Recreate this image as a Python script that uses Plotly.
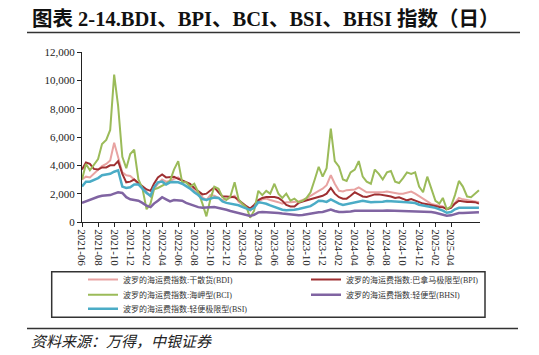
import plotly.graph_objects as go

# semimonthly sample dates (1st and 16th), 2021-06 .. 2025-07
months = [(2021 + (5 + i) // 12, (5 + i) % 12 + 1) for i in range(50)]
dates = [f"{y:04d}-{m:02d}-{d:02d}" for (y, m) in months for d in (1, 16)]

# x tick labels shown in the reference (every two months, up to 2025-04)
x_ticks = [f"{y:04d}-{m:02d}" for (y, m) in months[0:47:2]]

bdi = [3000, 3200, 3150, 3400, 3700, 3950, 4100, 4350, 5600, 4600,
       3500, 3300, 3250, 3000, 2650, 2450, 2100, 1800, 2300, 2700,
       3000, 2850, 2900, 3050, 3150, 2900, 2800, 2550, 2200, 2050,
       1750, 1550, 1900, 1850, 1700, 1550, 1600, 1750, 1850, 1450,
       1200, 950, 800, 1100, 1450, 1600, 1650, 1550, 1500, 1400,
       1300, 1400, 1400, 1400, 1450, 1550, 1650, 1850, 2050, 2200,
       2350, 2600, 3300, 2700, 2200, 2150, 2250, 2250, 2300, 2450,
       2300, 2100, 2100, 2100, 2050, 2100, 2150, 2100, 2000, 2000,
       2000, 2050, 2150, 2000, 1800, 1650, 1450, 1280, 1200, 1150,
       1100, 900, 1050, 1350, 1700, 1600, 1550, 1500, 1450, 1400]

bpi = [3700, 4200, 4100, 3750, 3700, 3850, 3850, 4000, 4000, 4300,
       3400, 2800, 2850, 3000, 2750, 2500, 2300, 2200, 2700, 3150,
       3350, 3150, 3150, 3200, 3050, 2950, 2800, 2700, 2400, 2150,
       1950, 2000, 2250, 2450, 2100, 1800, 1800, 1800, 1750, 1550,
       1300, 1100, 950, 1200, 1550, 1700, 1770, 1770, 1770, 1700,
       1500, 1200, 1100, 1100, 1350, 1450, 1530, 1600, 1700, 1800,
       1850, 2000, 2400, 2000, 1750, 1650, 1650, 1850, 2100, 1950,
       1800, 1770, 1850, 1950, 1950, 1880, 1850, 1800, 1700, 1750,
       1650, 1530, 1620, 1500, 1380, 1300, 1250, 1180, 1100, 1060,
       1050, 900, 1000, 1300, 1500, 1450, 1410, 1420, 1400, 1300]

bci = [3000, 4100, 3650, 4000, 4450, 5500, 5800, 6500, 10400, 8200,
       4600, 3800, 4800, 5100, 3000, 2400, 900, 1300, 2300, 2400,
       2550, 2700, 2900, 3700, 4300, 2800, 2800, 2500, 2700, 2100,
       1300, 400, 1600, 2500, 2350, 1750, 1550, 1800, 2800, 1600,
       1250, 1000, 300, 800, 2200, 1900, 2200, 2000, 2700, 2000,
       1700, 2000, 1500, 1650, 1400, 1500, 1700, 2100, 3000, 3900,
       3200, 3800, 6600, 4300, 3900, 3000, 2900, 3500, 3700, 4300,
       3200, 2850, 2700, 3700, 3400, 3000, 3500, 3600, 2850, 2750,
       3100, 3500, 3400, 3500, 2500, 2100, 3200, 2400, 1500, 1300,
       1700, 900, 1100, 1900, 2900, 2500, 1800, 1750, 2000, 2250]

bhsi = [1350, 1450, 1600, 1700, 1780, 1850, 1850, 1900, 2000, 2100,
        2050, 1750, 1600, 1570, 1500, 1350, 1150, 1050, 1300, 1500,
        1750, 1600, 1450, 1550, 1550, 1500, 1350, 1250, 1200, 1050,
        1000, 1000, 1050, 1060, 1000, 950, 860, 780, 700, 620,
        540, 480, 420, 500, 680, 710, 700, 700, 700, 640,
        600, 560, 530, 500, 480, 500, 560, 620, 660, 690,
        710, 780, 880, 780, 700, 700, 710, 740, 790, 820,
        800, 790, 780, 780, 790, 800, 810, 800, 790, 780,
        780, 780, 780, 780, 770, 750, 730, 700, 650, 590,
        530, 450, 470, 560, 630, 640, 640, 640, 660, 690]

bsi = [2500, 2850, 2850, 2950, 3100, 3300, 3350, 3400, 3550, 3650,
       2500, 2400, 2450, 2650, 2650, 2350, 2050, 1850, 2450, 2800,
       2850, 2650, 2800, 2820, 2800, 2700, 2550, 2360, 2100, 1900,
       1620, 1550, 1650, 1720, 1700, 1450, 1350, 1290, 1230, 1180,
       1050, 950, 850, 1000, 1400, 1350, 1290, 1170, 1050, 930,
       870, 830, 820, 860, 920, 980, 1050, 1120, 1300, 1500,
       1480, 1420, 1600, 1450, 1300, 1200, 1250, 1290, 1350, 1420,
       1500, 1450, 1400, 1420, 1420, 1430, 1480, 1450, 1420, 1410,
       1410, 1400, 1380, 1340, 1220, 1150, 1110, 1060, 1000, 920,
       800, 650, 700, 900, 1000, 1010, 1000, 990, 1000, 1010]

names = ["波罗的海运费指数:干散货(BDI)", "波罗的海运费指数:巴拿马极限型(BPI)",
         "波罗的海运费指数:海岬型(BCI)", "波罗的海运费指数:轻便型(BHSI)",
         "波罗的海运费指数:轻便极限型(BSI)"]
colors = ["#E8A3A2", "#9E2F31", "#9BBB59", "#8064A2", "#4BACC6"]
widths = [2, 2, 2, 2.5, 2.5]
series = [bdi, bpi, bci, bhsi, bsi]
legend_ids = ["legend", "legend2", "legend3", "legend4", "legend5"]
# legend slot (left px, top px) in the reference picture
legend_pos = [(83, 265), (306, 265), (83, 280.3), (306, 280.3), (83, 294.3)]

y_ticks = [0, 2000, 4000, 6000, 8000, 10000, 12000]

# page body has an 8px margin; lay out in reference coordinates minus that
OFF = 8
W, H = 539 - OFF, 355 - OFF
ML, MT, PW, PH = 82 - OFF, 52 - OFF, 398, 170
MR, MB = W - ML - PW, H - MT - PH


def X(px):
    return (px - OFF - ML) / PW


def Y(py):
    return (MT + PH - (py - OFF)) / PH


fig = go.Figure()
for s, nm, c, w, lg in zip(series, names, colors, widths, legend_ids):
    fig.add_trace(go.Scatter(x=dates, y=s, mode="lines", name=nm,
                             line=dict(color=c, width=w), legend=lg))

serif = "Liberation Serif, Times New Roman, Noto Sans CJK SC"
legends = {}
for lg, (lx, ly) in zip(legend_ids, legend_pos):
    legends[lg] = dict(orientation="h", xanchor="left", yanchor="top",
                       x=X(lx), y=Y(ly),
                       font=dict(family=serif, size=8, color="#333"),
                       bgcolor="rgba(0,0,0,0)", borderwidth=0, itemwidth=30)

fig.update_layout(
    width=W, height=H,
    margin=dict(l=ML, r=MR, t=MT, b=MB, autoexpand=False),
    paper_bgcolor="white", plot_bgcolor="white",
    showlegend=True,
    xaxis=dict(type="date", range=["2021-06-01", "2025-07-20"],
               tickvals=[t + "-01" for t in x_ticks], ticktext=x_ticks,
               tickangle=90, ticks="outside", ticklen=4, tickcolor="#222",
               showline=True, linecolor="#222", linewidth=1,
               showgrid=False, zeroline=False, automargin=False,
               tickfont=dict(family=serif, size=11, color="#222")),
    yaxis=dict(range=[0, 12000], tickvals=y_ticks, tickformat=",",
               ticks="outside", ticklen=4, tickcolor="#222",
               showline=True, linecolor="#222", linewidth=1,
               showgrid=False, zeroline=False, automargin=False,
               tickfont=dict(family=serif, size=11, color="#222")),
    shapes=[
        dict(type="line", xref="paper", yref="paper", x0=X(27), x1=X(520),
             y0=Y(32.5), y1=Y(32.5), line=dict(color="#333", width=1.5)),
        dict(type="line", xref="paper", yref="paper", x0=X(27), x1=X(518),
             y0=Y(328.5), y1=Y(328.5), line=dict(color="#333", width=1.5)),
        dict(type="rect", xref="paper", yref="paper", x0=X(51.7), x1=X(485),
             y0=Y(317.3), y1=Y(271.7), line=dict(color="#333", width=1.5)),
    ],
    annotations=[
        dict(xref="paper", yref="paper", x=X(30), y=Y(18.5), xanchor="left",
             yanchor="middle", showarrow=False,
             text="<b>图表 2-14.BDI、BPI、BCI、BSI、BHSI 指数（日）</b>",
             font=dict(family=serif, size=20.5, color="#111")),
        dict(xref="paper", yref="paper", x=X(29), y=Y(340), xanchor="left",
             yanchor="middle", showarrow=False,
             text="<i>资料来源：万得，中银证券</i>",
             font=dict(family="Noto Sans CJK SC", size=15, color="#222")),
    ],
    **legends,
)

fig.write_html("out.html")
